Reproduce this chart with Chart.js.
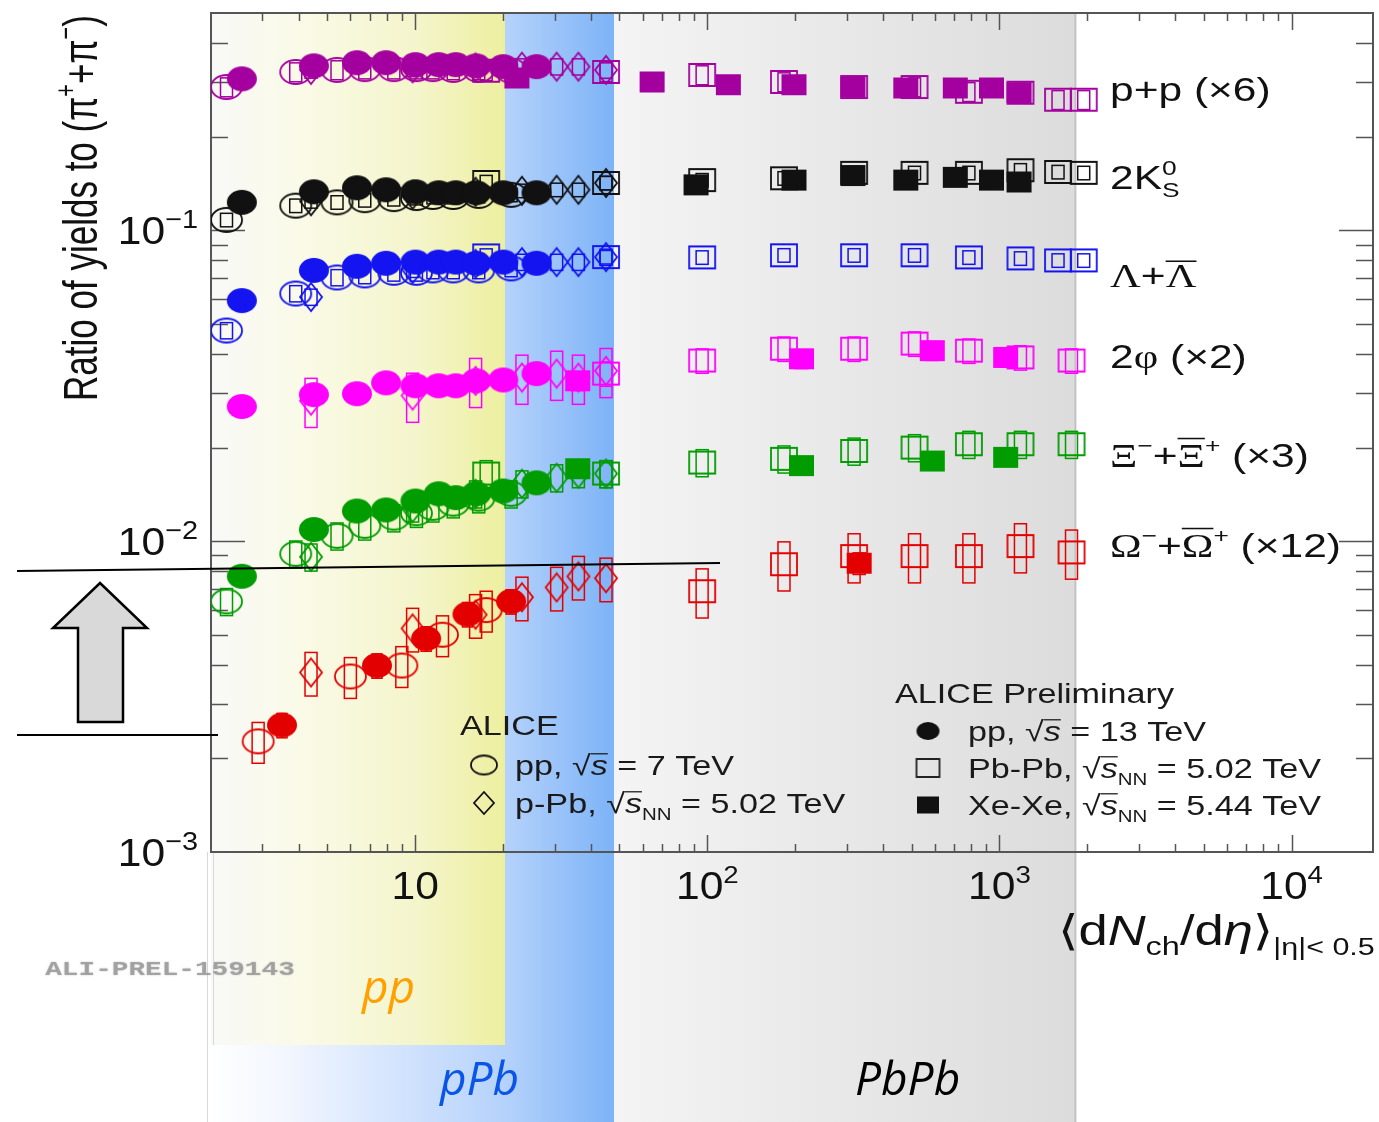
<!DOCTYPE html>
<html>
<head>
<meta charset="utf-8">
<title>Ratio of yields to pions vs charged-particle multiplicity</title>
<script src="https://cdn.jsdelivr.net/npm/chart.js@4.4.1/dist/chart.umd.min.js"></script>
<style>
  html, body { margin: 0; padding: 0; background: #fff; overflow: hidden; }
  canvas { display: block; }
</style>
</head>
<body>
<canvas id="ratioChart" width="1379" height="1122"></canvas>
<script>
// multiplicity classes, <dNch/deta> at |eta| < 0.5
const multPP13 = [2.55, 4.50, 6.32, 7.95, 10.02, 12.04, 13.77, 16.17, 20.02, 26.02];
const multPP13Omega = [3.5, 7.4, 10.9, 15.1, 21.3];
const multPP7 = [2.26, 3.90, 5.40, 6.72, 8.45, 10.1, 11.5, 13.5, 16.5, 21.3];
const multPP7Omega = [2.9, 6.0, 9.0, 12.4, 17.5];
const multPPb = [4.4, 9.8, 16.1, 23.2, 30.5, 36.2, 45];
const multPbPb = [17.5, 45, 96, 183, 318, 512, 786, 1180, 1587, 1943];
const multPbPbPhi = [45, 96, 183, 318, 512, 786, 1180, 1765];
const multPbPbXi = [17.5, 45, 96, 183, 318, 512, 786, 1180, 1765];
const multPbPbOmega = [96, 183, 318, 512, 786, 1180, 1765];
const multXeXe = [22.3, 64.7, 118, 198, 315, 478, 706, 939, 1167];
const multXeXeK0 = [91.5, 198, 315, 478, 706, 939, 1167];
const multXeXePhiXi = [36, 210, 589, 1050];
const multXeXeOmega = [331];

// ratios to (pi+ + pi-), already scaled as in the labels
const protonPP13 = [0.307, 0.338, 0.346, 0.346, 0.341, 0.341, 0.341, 0.338, 0.336, 0.336];
const protonPP7 = [0.289, 0.323, 0.328, 0.330, 0.330, 0.330, 0.330, 0.328, 0.328, 0.326];
const protonPPb = [0.328, 0.332, 0.334, 0.336, 0.336, 0.336, 0.328];
const protonPbPb = [0.326, 0.323, 0.316, 0.300, 0.289, 0.289, 0.279, 0.277, 0.263, 0.263];
const protonXeXe = [0.309, 0.300, 0.294, 0.294, 0.289, 0.287, 0.287, 0.287, 0.277];

const k0PP13 = [0.123, 0.133, 0.137, 0.135, 0.133, 0.132, 0.132, 0.132, 0.132, 0.132];
const k0PP7 = [0.108, 0.120, 0.123, 0.125, 0.126, 0.127, 0.128, 0.128, 0.129, 0.130];
const k0PPb = [0.124, 0.130, 0.133, 0.134, 0.135, 0.135, 0.142];
const k0PbPb = [0.143, 0.142, 0.145, 0.147, 0.153, 0.153, 0.153, 0.156, 0.154, 0.153];
const k0XeXe = [0.140, 0.145, 0.150, 0.145, 0.148, 0.145, 0.143];

const lambdaPP13 = [0.0594, 0.0743, 0.0766, 0.0783, 0.079, 0.079, 0.079, 0.0783, 0.079, 0.0783];
const lambdaPP7 = [0.0476, 0.0626, 0.0705, 0.0716, 0.073, 0.073, 0.0743, 0.0743, 0.0743, 0.0754];
const lambdaPPb = [0.061, 0.075, 0.078, 0.079, 0.079, 0.079, 0.082];
const lambdaPbPb = [0.083, 0.082, 0.0818, 0.0831, 0.0831, 0.0831, 0.0818, 0.0812, 0.080, 0.080];

const phiPP13 = [0.0271, 0.0296, 0.0298, 0.0323, 0.0316, 0.0316, 0.0316, 0.0328, 0.0330, 0.0346];
const phiPPb = [0.0283, 0.0294, 0.0328, 0.0336, 0.0346, 0.0336, 0.0353];
const phiPbPb = [0.0346, 0.0381, 0.0416, 0.0416, 0.0432, 0.0410, 0.0390, 0.0381];
const phiXeXe = [0.0328, 0.0386, 0.0410, 0.0390];

const xiPP13 = [0.00771, 0.0109, 0.0125, 0.0126, 0.01346, 0.0142, 0.0138, 0.0142, 0.0145, 0.0154];
const xiPP7 = [0.0064, 0.0091, 0.0104, 0.0112, 0.0119, 0.0123, 0.0128, 0.0132, 0.0137, 0.0142];
const xiPPb = [0.0089, 0.0128, 0.0142, 0.0153, 0.0160, 0.0165, 0.0165];
const xiPbPb = [0.0165, 0.0165, 0.0179, 0.0184, 0.0195, 0.0200, 0.0205, 0.0205, 0.0205];
const xiXeXe = [0.0171, 0.0175, 0.0181, 0.0186];

const omegaPP13 = [0.00256, 0.00398, 0.00486, 0.00582, 0.0064];
const omegaPP7 = [0.00227, 0.00367, 0.00398, 0.0050, 0.0060];
const omegaPPb = [0.00378, 0.00524, 0.0058, 0.0066, 0.0071, 0.0077, 0.0076];
const omegaPbPb = [0.0069, 0.00843, 0.00895, 0.00895, 0.00895, 0.00964, 0.0092];
const omegaXeXe = [0.00849];

// relative systematic uncertainty, order: pp13, pp7, p-Pb, Pb-Pb, Xe-Xe
const sysProton = [0.05, 0.07, 0.06, 0.07, 0.06];
const sysK0 = [0.04, 0.05, 0.05, 0.05, 0.04];
const sysLambda = [0.05, 0.06, 0.06, 0.05, 0];
const sysPhi = [0.06, 0, 0.18, 0.09, 0.07];
const sysXi = [0.07, 0.10, 0.10, 0.10, 0.06];
const sysOmega = [0.09, 0.15, 0.16, 0.18, 0.08];

// axis ticks and band limits
const xTickLabels = [[10, ''], [100, '2'], [1000, '3'], [10000, '4']];
const yTickLabels = [[0.1, '\u22121'], [0.01, '\u22122'], [0.001, '\u22123']];
const bandEdges = [20.3, 48, 1820];

const SANS = '"Liberation Sans", "DejaVu Sans", Arial, sans-serif';
const SERIF = '"Liberation Serif", "DejaVu Serif", serif';

const colors = {
  proton: '#a4009f',
  k0: '#111111',
  lambda: '#1414f0',
  phi: '#ff00ff',
  xi: '#009c00',
  omega: '#e30000',
};

// marker sprites: the original figure is stretched sideways, so circles are ellipses
function makeMarker(shape, color, filled, w, h) {
  const c = document.createElement('canvas');
  c.width = w + 4;
  c.height = h + 4;
  const g = c.getContext('2d');
  const cx = c.width / 2, cy = c.height / 2;
  g.beginPath();
  if (shape === 'ellipse') {
    g.ellipse(cx, cy, w / 2, h / 2, 0, 0, 2 * Math.PI);
  } else if (shape === 'diamond') {
    g.moveTo(cx, cy - h / 2);
    g.lineTo(cx + w / 2, cy);
    g.lineTo(cx, cy + h / 2);
    g.lineTo(cx - w / 2, cy);
    g.closePath();
  } else {
    g.rect(cx - w / 2, cy - h / 2, w, h);
  }
  if (filled) {
    g.fillStyle = color;
    g.fill();
  } else {
    g.lineWidth = 1.8;
    g.strokeStyle = color;
    g.stroke();
  }
  return c;
}

const systemStyle = {
  pp13: { shape: 'ellipse', filled: true, w: 30, h: 25, box: 5 },
  xexe: { shape: 'square', filled: true, w: 25, h: 21, box: 6 },
  ppb: { shape: 'diamond', filled: false, w: 22, h: 28, box: 6 },
  pp7: { shape: 'ellipse', filled: false, w: 31, h: 24, box: 6 },
  pbpb: { shape: 'square', filled: false, w: 26, h: 22, box: 6 },
};

function series(species, system, xs, ys, sys) {
  const st = systemStyle[system];
  const color = colors[species];
  return {
    label: species + ' ' + system,
    data: xs.map((x, i) => ({ x: x, y: ys[i] })),
    pointStyle: makeMarker(st.shape, color, st.filled, st.w, st.h),
    pointRadius: 10,
    borderColor: color,
    backgroundColor: color,
    showLine: false,
    sys: sys,
    boxHalf: st.box,
  };
}

// first dataset is drawn on top
const datasets = [
  series('proton', 'pp13', multPP13, protonPP13, sysProton[0]),
  series('k0', 'pp13', multPP13, k0PP13, sysK0[0]),
  series('lambda', 'pp13', multPP13, lambdaPP13, sysLambda[0]),
  series('phi', 'pp13', multPP13, phiPP13, sysPhi[0]),
  series('xi', 'pp13', multPP13, xiPP13, sysXi[0]),
  series('omega', 'pp13', multPP13Omega, omegaPP13, sysOmega[0]),

  series('proton', 'xexe', multXeXe, protonXeXe, sysProton[4]),
  series('k0', 'xexe', multXeXeK0, k0XeXe, sysK0[4]),
  series('phi', 'xexe', multXeXePhiXi, phiXeXe, sysPhi[4]),
  series('xi', 'xexe', multXeXePhiXi, xiXeXe, sysXi[4]),
  series('omega', 'xexe', multXeXeOmega, omegaXeXe, sysOmega[4]),

  series('proton', 'ppb', multPPb, protonPPb, sysProton[2]),
  series('k0', 'ppb', multPPb, k0PPb, sysK0[2]),
  series('lambda', 'ppb', multPPb, lambdaPPb, sysLambda[2]),
  series('phi', 'ppb', multPPb, phiPPb, sysPhi[2]),
  series('xi', 'ppb', multPPb, xiPPb, sysXi[2]),
  series('omega', 'ppb', multPPb, omegaPPb, sysOmega[2]),

  series('proton', 'pp7', multPP7, protonPP7, sysProton[1]),
  series('k0', 'pp7', multPP7, k0PP7, sysK0[1]),
  series('lambda', 'pp7', multPP7, lambdaPP7, sysLambda[1]),
  series('xi', 'pp7', multPP7, xiPP7, sysXi[1]),
  series('omega', 'pp7', multPP7Omega, omegaPP7, sysOmega[1]),

  series('proton', 'pbpb', multPbPb, protonPbPb, sysProton[3]),
  series('k0', 'pbpb', multPbPb, k0PbPb, sysK0[3]),
  series('lambda', 'pbpb', multPbPb, lambdaPbPb, sysLambda[3]),
  series('phi', 'pbpb', multPbPbPhi, phiPbPb, sysPhi[3]),
  series('xi', 'pbpb', multPbPbXi, xiPbPb, sysXi[3]),
  series('omega', 'pbpb', multPbPbOmega, omegaPbPb, sysOmega[3]),
];

// small rich-text helper for super/subscripts and bars
function fontFor(seg, base) {
  const size = base.size * (seg.sup || seg.sub ? (seg.rel || 0.62) : 1);
  const fam = seg.serif ? SERIF : base.family;
  return (seg.italic ? 'italic ' : '') + (base.weight || 'normal') + ' ' + size.toFixed(1) + 'px ' + fam;
}

function drawRich(ctx, x, y, segs, base) {
  ctx.save();
  ctx.translate(x, y);
  ctx.scale(base.sx || 1, 1);
  if (base.rotate) ctx.rotate(base.rotate);
  ctx.fillStyle = base.color || '#111';
  ctx.textBaseline = 'alphabetic';
  ctx.textAlign = 'left';
  let total = 0;
  segs.forEach((s) => {
    ctx.font = fontFor(s, base);
    if (!s.stack) total += ctx.measureText(s.t).width;
  });
  let cx = base.align === 'center' ? -total / 2 : base.align === 'right' ? -total : 0;
  segs.forEach((s) => {
    ctx.font = fontFor(s, base);
    const dy = s.sup ? -base.size * 0.42 : s.sub ? base.size * 0.24 : 0;
    const w = ctx.measureText(s.t).width;
    ctx.fillText(s.t, cx, dy);
    if (s.over) {
      ctx.fillRect(cx, dy - base.size * (s.overAt || 0.82), w, Math.max(1.2, base.size * 0.045));
    }
    if (!s.stack) cx += w;
  });
  ctx.restore();
}

const backdrop = {
  id: 'backdrop',
  beforeDraw(chart) {
    const { ctx, chartArea: a, scales: { x } } = chart;
    const H = chart.height;
    const ppEdge = x.getPixelForValue(bandEdges[0]);
    const pPbEdge = x.getPixelForValue(bandEdges[1]);
    const PbEdge = x.getPixelForValue(bandEdges[2]);
    const pPbLeft = a.left - 4;
    const ppBottom = 1045;
    ctx.save();
    ctx.fillStyle = '#ffffff';
    ctx.fillRect(0, 0, chart.width, H);

    // p-Pb band, it also runs under the pp band down to the bottom
    let g = ctx.createLinearGradient(pPbLeft, 0, pPbEdge, 0);
    g.addColorStop(0, '#ffffff');
    g.addColorStop(0.2, '#f2f6fe');
    g.addColorStop((ppEdge - pPbLeft) / (pPbEdge - pPbLeft), '#b5d2fb');
    g.addColorStop(1, '#7db3f7');
    ctx.fillStyle = g;
    ctx.fillRect(pPbLeft, a.top, pPbEdge - pPbLeft, H - a.top);

    // pp band
    g = ctx.createLinearGradient(a.left, 0, ppEdge, 0);
    g.addColorStop(0, '#f9f9f8');
    g.addColorStop(0.3, '#fafae8');
    g.addColorStop(0.7, '#f4f5cb');
    g.addColorStop(1, '#edef9f');
    ctx.fillStyle = g;
    ctx.fillRect(a.left, a.top, ppEdge - a.left, ppBottom - a.top);

    // Pb-Pb band
    g = ctx.createLinearGradient(pPbEdge, 0, PbEdge, 0);
    g.addColorStop(0, '#f4f4f4');
    g.addColorStop(1, '#dcdcdc');
    ctx.fillStyle = g;
    ctx.fillRect(pPbEdge, a.top, PbEdge - pPbEdge, H - a.top);
    ctx.fillStyle = '#c2c2c2';
    ctx.fillRect(PbEdge - 1, a.top, 2, H - a.top);

    // faint edges under the frame
    ctx.fillStyle = '#d8d8d8';
    ctx.fillRect(pPbLeft, a.bottom, 1, H - a.bottom);
    ctx.fillRect(a.left + 2, a.bottom, 1, ppBottom - a.bottom);
    ctx.restore();
  },
};

const frame = {
  id: 'frame',
  beforeDatasetsDraw(chart) {
    const { ctx, chartArea: a, scales: { x, y } } = chart;
    ctx.save();
    ctx.strokeStyle = '#555';
    ctx.lineWidth = 2;
    ctx.strokeRect(a.left, a.top, a.right - a.left, a.bottom - a.top);

    ctx.lineWidth = 1.5;
    ctx.beginPath();
    for (let e = 0; e <= 4; e++) {
      for (let m = 1; m <= 9; m++) {
        const v = m * Math.pow(10, e);
        if (v <= x.min || v >= x.max) continue;
        const px = Math.round(x.getPixelForValue(v)) + 0.5;
        const len = m === 1 ? 17 : 8;
        ctx.moveTo(px, a.bottom);
        ctx.lineTo(px, a.bottom - len);
        ctx.moveTo(px, a.top);
        ctx.lineTo(px, a.top + len);
      }
    }
    for (let e = -3; e <= -1; e++) {
      for (let m = 1; m <= 9; m++) {
        const v = m * Math.pow(10, e);
        if (v <= y.min || v >= y.max) continue;
        const py = Math.round(y.getPixelForValue(v)) + 0.5;
        const len = m === 1 ? 34 : 17;
        ctx.moveTo(a.left, py);
        ctx.lineTo(a.left + len, py);
        ctx.moveTo(a.right, py);
        ctx.lineTo(a.right - len, py);
      }
    }
    ctx.stroke();

    // systematic boxes
    ctx.lineWidth = 1.5;
    for (let i = datasets.length - 1; i >= 0; i--) {
      const ds = chart.data.datasets[i];
      if (!ds.sys) continue;
      ctx.strokeStyle = ds.borderColor;
      ds.data.forEach((p) => {
        const px = x.getPixelForValue(p.x);
        const top = y.getPixelForValue(p.y * (1 + ds.sys));
        const bot = y.getPixelForValue(p.y * (1 - ds.sys));
        ctx.strokeRect(px - ds.boxHalf, top, 2 * ds.boxHalf, bot - top);
      });
    }
    ctx.restore();
  },
};

const texts = {
  id: 'texts',
  afterDraw(chart) {
    const { ctx, scales: { x, y } } = chart;
    const tick = { size: 38, family: SANS, sx: 1.12, color: '#111' };

    xTickLabels.forEach(([v, exp]) => {
      const segs = [{ t: '10' }];
      if (exp) segs.push({ t: exp, sup: true, rel: 0.65 });
      drawRich(ctx, x.getPixelForValue(v), 899, segs, Object.assign({ align: 'center' }, tick));
    });
    yTickLabels.forEach(([v, exp]) => {
      drawRich(ctx, 198, y.getPixelForValue(v) + 14, [{ t: '10' }, { t: exp, sup: true, rel: 0.68 }],
        Object.assign({ align: 'right' }, tick));
    });

    // axis titles
    drawRich(ctx, 97, 208, [
      { t: 'Ratio of yields to (\u03c0' }, { t: '+', sup: true }, { t: '+\u03c0' }, { t: '\u2212', sup: true }, { t: ')' },
    ], { size: 35, family: SANS, sx: 1.4, align: 'center', rotate: -Math.PI / 2, color: '#111' });

    drawRich(ctx, 1058, 945, [
      { t: '\u27e8' }, { t: 'd' }, { t: 'N', italic: true }, { t: 'ch', sub: true }, { t: '/d' },
      { t: '\u03b7', italic: true }, { t: '\u27e9' }, { t: '|\u03b7|< 0.5', sub: true, rel: 0.58 },
    ], { size: 42, family: SANS, sx: 1.25, color: '#111' });

    // species labels
    const lab = { size: 34, family: SANS, sx: 1.25, color: '#111' };
    drawRich(ctx, 1110, 101, [{ t: 'p+p (\u00d76)' }], lab);
    drawRich(ctx, 1110, 189, [{ t: '2K' }, { t: '0', sup: true, stack: true }, { t: 'S', sub: true }], lab);
    drawRich(ctx, 1110, 287, [{ t: '\u039b', serif: true }, { t: '+' }, { t: '\u039b', serif: true, over: true, overAt: 0.78 }], lab);
    drawRich(ctx, 1110, 368, [{ t: '2' }, { t: '\u03c6', serif: true }, { t: ' (\u00d72)' }], lab);
    drawRich(ctx, 1110, 467, [
      { t: '\u039e', serif: true }, { t: '\u2212', sup: true }, { t: '+' },
      { t: '\u039e', serif: true, over: true, overAt: 0.86 }, { t: '+', sup: true }, { t: ' (\u00d73)' },
    ], lab);
    drawRich(ctx, 1110, 557, [
      { t: '\u03a9', serif: true }, { t: '\u2212', sup: true }, { t: '+' },
      { t: '\u03a9', serif: true, over: true, overAt: 0.86 }, { t: '+', sup: true }, { t: ' (\u00d712)' },
    ], lab);

    // legends
    const leg = { size: 28, family: SANS, sx: 1.22, color: '#1a1a1a' };
    const rootS = [{ t: '\u221a' }, { t: 's', italic: true, over: true, overAt: 0.78 }];
    const rootSNN = rootS.concat([{ t: 'NN', sub: true, rel: 0.6 }]);
    drawRich(ctx, 460, 735, [{ t: 'ALICE' }], leg);
    drawRich(ctx, 515, 775, [{ t: 'pp, ' }].concat(rootS, [{ t: ' = 7 TeV' }]), leg);
    drawRich(ctx, 515, 813, [{ t: 'p-Pb, ' }].concat(rootSNN, [{ t: ' = 5.02 TeV' }]), leg);
    drawRich(ctx, 895, 703, [{ t: 'ALICE Preliminary' }], leg);
    drawRich(ctx, 968, 741, [{ t: 'pp, ' }].concat(rootS, [{ t: ' = 13 TeV' }]), leg);
    drawRich(ctx, 968, 778, [{ t: 'Pb-Pb, ' }].concat(rootSNN, [{ t: ' = 5.02 TeV' }]), leg);
    drawRich(ctx, 968, 815, [{ t: 'Xe-Xe, ' }].concat(rootSNN, [{ t: ' = 5.44 TeV' }]), leg);

    const legendMarks = [
      [makeMarker('ellipse', '#111', false, 26, 19), 484, 765],
      [makeMarker('diamond', '#111', false, 20, 22), 484, 803],
      [makeMarker('ellipse', '#111', true, 23, 18), 928, 731],
      [makeMarker('square', '#222', false, 23, 18), 928, 768],
      [makeMarker('square', '#111', true, 22, 17), 928, 805],
    ];
    legendMarks.forEach(([img, mx, my]) => ctx.drawImage(img, mx - img.width / 2, my - img.height / 2));

    // preliminary tag
    ctx.save();
    ctx.shadowColor = 'rgba(120,120,120,0.5)';
    ctx.shadowBlur = 2;
    drawRich(ctx, 170, 975, [{ t: 'ALI-PREL-159143' }],
      { size: 21, family: '"Liberation Mono", "DejaVu Sans Mono", monospace', weight: 'bold', sx: 1.32, align: 'center', color: 'rgba(150,150,150,0.8)' });
    ctx.restore();

    // collision system tags on the bands
    const tag = { size: 46, family: '"Open Sans", "Noto Sans", sans-serif', sx: 1 };
    drawRich(ctx, 362, 1003, [{ t: 'pp', italic: true }], Object.assign({ color: '#ffa000' }, tag));
    drawRich(ctx, 440, 1095, [{ t: 'pPb', italic: true }], Object.assign({ color: '#0a55e8' }, tag));
    drawRich(ctx, 855, 1095, [{ t: 'PbPb', italic: true }], Object.assign({ color: '#000' }, tag));

    // slide annotation: two guide lines and an up arrow
    ctx.save();
    ctx.strokeStyle = '#000';
    ctx.lineWidth = 2;
    ctx.beginPath();
    ctx.moveTo(17, 571);
    ctx.lineTo(720, 563);
    ctx.moveTo(17, 735);
    ctx.lineTo(218, 735);
    ctx.stroke();
    ctx.beginPath();
    ctx.moveTo(100, 583);
    ctx.lineTo(147, 628);
    ctx.lineTo(123, 628);
    ctx.lineTo(123, 722);
    ctx.lineTo(78, 722);
    ctx.lineTo(78, 628);
    ctx.lineTo(53, 628);
    ctx.closePath();
    ctx.fillStyle = '#d9d9d9';
    ctx.fill();
    ctx.lineWidth = 2.5;
    ctx.stroke();
    ctx.restore();
  },
};

const chart = new Chart(document.getElementById('ratioChart').getContext('2d'), {
  type: 'scatter',
  data: { datasets: datasets },
  options: {
    responsive: false,
    animation: false,
    events: [],
    layout: { autoPadding: false, padding: { left: 211, top: 13, right: 6, bottom: 270 } },
    scales: {
      x: { type: 'logarithmic', min: 2, max: 19000, display: false },
      y: { type: 'logarithmic', min: 0.001, max: 0.5, display: false },
    },
    plugins: {
      legend: { display: false },
      tooltip: { enabled: false },
    },
  },
  plugins: [backdrop, frame, texts],
});
</script>
</body>
</html>
